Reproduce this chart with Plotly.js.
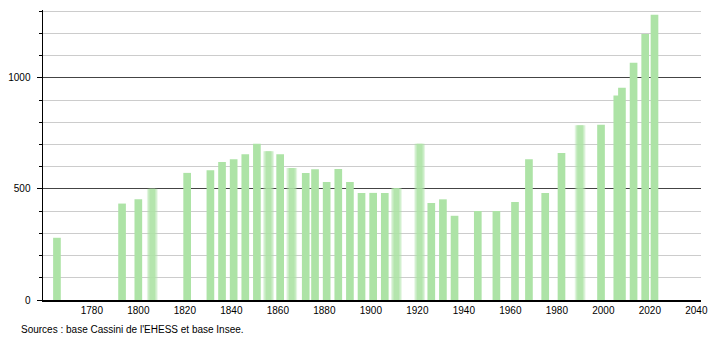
<!DOCTYPE html>
<html>
<head>
<meta charset="utf-8">
<script src="https://cdn.plot.ly/plotly-3.0.1.min.js"></script>
<style>
  html, body { margin: 0; padding: 0; background: #fff; }
  #chart { width: 710px; height: 340px; }
</style>
</head>
<body>
<div id="chart"></div>
<script>
var years = [1765, 1793, 1800, 1806, 1821, 1831, 1836, 1841, 1846, 1851, 1856, 1861, 1866,
             1872, 1876, 1881, 1886, 1891, 1896, 1901, 1906, 1911, 1921, 1926, 1931, 1936,
             1946, 1954, 1962, 1968, 1975, 1982, 1990, 1999, 2006, 2008, 2013, 2018, 2022];
var population = [280, 434, 453, 501, 572, 584, 621, 633, 656, 703, 669, 656, 594,
                  572, 588, 531, 590, 531, 482, 482, 482, 504, 703, 437, 453, 379,
                  400, 400, 441, 633, 482, 661, 786, 789, 920, 955, 1068, 1197, 1284];
var softYears = [1806, 1856, 1866, 1911, 1921, 1990];
var xTickValues = [1780, 1800, 1820, 1840, 1860, 1880, 1900, 1920, 1940, 1960, 1980, 2000, 2020, 2040];
var yTickValues = [0, 500, 1000];
var sourceText = "Sources : base Cassini de l'EHESS et base Insee.";

var barColor = '#ade3a6';
var sharpX = [], sharpY = [], softX = [], softY = [];
years.forEach(function (yr, i) {
  if (softYears.indexOf(yr) >= 0) { softX.push(yr); softY.push(population[i]); }
  else { sharpX.push(yr); sharpY.push(population[i]); }
});

var traces = [
  { type: 'bar', x: sharpX, y: sharpY, width: 3.3,
    marker: { color: barColor, line: { width: 0 } }, hoverinfo: 'x+y' },
  { type: 'bar', x: softX, y: softY, width: 4.6,
    marker: { color: barColor, opacity: 0.35, line: { width: 0 } }, hoverinfo: 'skip' },
  { type: 'bar', x: softX, y: softY, width: 3.6,
    marker: { color: barColor, opacity: 0.5, line: { width: 0 } }, hoverinfo: 'skip' },
  { type: 'bar', x: softX, y: softY, width: 2.4,
    marker: { color: barColor, opacity: 0.75, line: { width: 0 } }, hoverinfo: 'x+y' }
];

var layout = {
  width: 710, height: 340,
  margin: { l: 43, r: 9, t: 10, b: 40, pad: 0 },
  paper_bgcolor: '#fff', plot_bgcolor: '#fff',
  showlegend: false,
  barmode: 'overlay',
  font: { family: 'Liberation Sans, Arial, sans-serif', size: 10, color: '#000' },
  xaxis: {
    range: [1759, 2042],
    tickmode: 'array', tickvals: xTickValues, ticktext: xTickValues.map(String),
    showgrid: false, zeroline: false,
    showline: true, linecolor: '#000', linewidth: 1.5,
    ticks: '', tickfont: { size: 10, color: '#000' }
  },
  yaxis: {
    range: [0, 1305],
    tickmode: 'array', tickvals: yTickValues, ticktext: yTickValues.map(String),
    showgrid: true, gridcolor: '#444', gridwidth: 1,
    zeroline: false,
    showline: true, linecolor: '#000', linewidth: 1.5,
    ticks: 'outside', ticklen: 5, tickcolor: '#000', tickwidth: 1,
    ticklabelstandoff: 4,
    tickfont: { size: 10, color: '#000' },
    minor: { dtick: 100, showgrid: true, gridcolor: '#cccccc', gridwidth: 1,
             ticks: 'outside', ticklen: 3, tickcolor: '#000' }
  },
  annotations: [{
    xref: 'paper', yref: 'paper', x: -0.036, y: -0.075,
    xanchor: 'left', yanchor: 'top', showarrow: false,
    text: sourceText, font: { size: 10, color: '#000' }
  }]
};

Plotly.newPlot('chart', traces, layout, { displayModeBar: false, staticPlot: true });
</script>
</body>
</html>
